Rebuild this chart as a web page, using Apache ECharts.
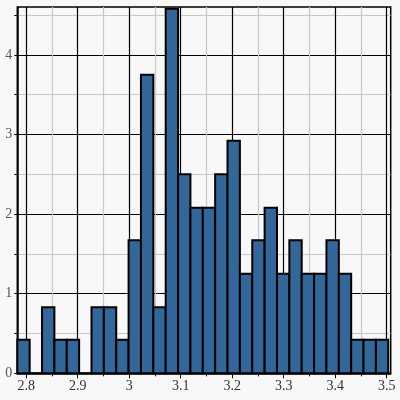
<!DOCTYPE html>
<html>
<head>
<meta charset="utf-8">
<script src="https://cdn.jsdelivr.net/npm/echarts@6/dist/echarts.min.js"></script>
<style>
html,body{margin:0;padding:0;background:#f8f8f8;}
#c{width:400px;height:400px;}
</style>
</head>
<body>
<div id="c"></div>
<script>
// Histogram bins (density)
var binStart = 2.7828;
var binWidth = 0.02401;
var densities = [0.42, 0, 0.83, 0.42, 0.42, 0, 0.83, 0.83, 0.42, 1.67,
                 3.75, 0.83, 4.58, 2.5, 2.08, 2.08, 2.5, 2.92, 1.25, 1.67,
                 2.08, 1.25, 1.67, 1.25, 1.25, 1.67, 1.25, 0.42, 0.42, 0.42];
var xMajorTicks = [2.8, 2.9, 3, 3.1, 3.2, 3.3, 3.4, 3.5];
var xMinorTicks = [2.85, 2.95, 3.05, 3.15, 3.25, 3.35, 3.45];
var yMajorTicks = [0, 1, 2, 3, 4];
var yMinorTicks = [0.5, 1.5, 2.5, 3.5, 4.5];
var xMin = 2.7828, xMax = 3.5078, yMin = 0, yMax = 4.6;

var data = densities.map(function (d, i) {
  return [binStart + i * binWidth, binStart + (i + 1) * binWidth, d];
});

var labelFont = {fontFamily: 'Liberation Serif', fontSize: 14, color: '#333'};

var chart = echarts.init(document.getElementById('c'));
chart.setOption({
  backgroundColor: '#f8f8f8',
  animation: false,
  grid: {left: 17.3, right: 9.3, top: 7.1, bottom: 26.7, show: true,
         backgroundColor: '#f8f8f8', borderColor: '#000', borderWidth: 1.5},
  xAxis: [{
    type: 'value', min: xMin, max: xMax, position: 'bottom',
    axisLine: {show: false},
    axisTick: {show: true, customValues: xMinorTicks, length: 3, lineStyle: {color: '#000', width: 1}},
    axisLabel: {show: false},
    splitLine: {show: true, lineStyle: {color: '#c8c8c8', width: 1.2}}
  }, {
    type: 'value', min: xMin, max: xMax, position: 'bottom',
    axisLine: {show: true, onZero: false, lineStyle: {color: '#000', width: 1.5}},
    axisTick: {show: true, customValues: xMajorTicks, length: 5, lineStyle: {color: '#000', width: 1}},
    axisLabel: Object.assign({show: true, customValues: xMajorTicks, margin: 6,
      formatter: function (v) { return String(Math.round(v * 10) / 10); }}, labelFont),
    splitLine: {show: true, lineStyle: {color: '#000', width: 1.2}}
  }],
  yAxis: [{
    type: 'value', min: yMin, max: yMax, position: 'left',
    axisLine: {show: false},
    axisTick: {show: true, customValues: yMinorTicks, length: 3, lineStyle: {color: '#000', width: 1}},
    axisLabel: {show: false},
    splitLine: {show: true, lineStyle: {color: '#c8c8c8', width: 1.2}}
  }, {
    type: 'value', min: yMin, max: yMax, position: 'left',
    axisLine: {show: true, onZero: false, lineStyle: {color: '#000', width: 1.5}},
    axisTick: {show: true, customValues: yMajorTicks, length: 3, lineStyle: {color: '#000', width: 1}},
    axisLabel: Object.assign({show: true, customValues: yMajorTicks, margin: 5}, labelFont, {color: '#555'}),
    splitLine: {show: true, lineStyle: {color: '#000', width: 1.2}}
  }],
  series: [{
    type: 'custom',
    xAxisIndex: 1, yAxisIndex: 1,
    encode: {x: [0, 1], y: 2},
    data: data,
    renderItem: function (params, api) {
      var p0 = api.coord([api.value(0), api.value(2)]);
      var p1 = api.coord([api.value(1), 0]);
      return {
        type: 'rect',
        shape: {x: p0[0], y: p0[1], width: p1[0] - p0[0], height: p1[1] - p0[1]},
        style: {fill: '#336699', stroke: '#000', lineWidth: 2}
      };
    }
  }]
});
</script>
</body>
</html>
